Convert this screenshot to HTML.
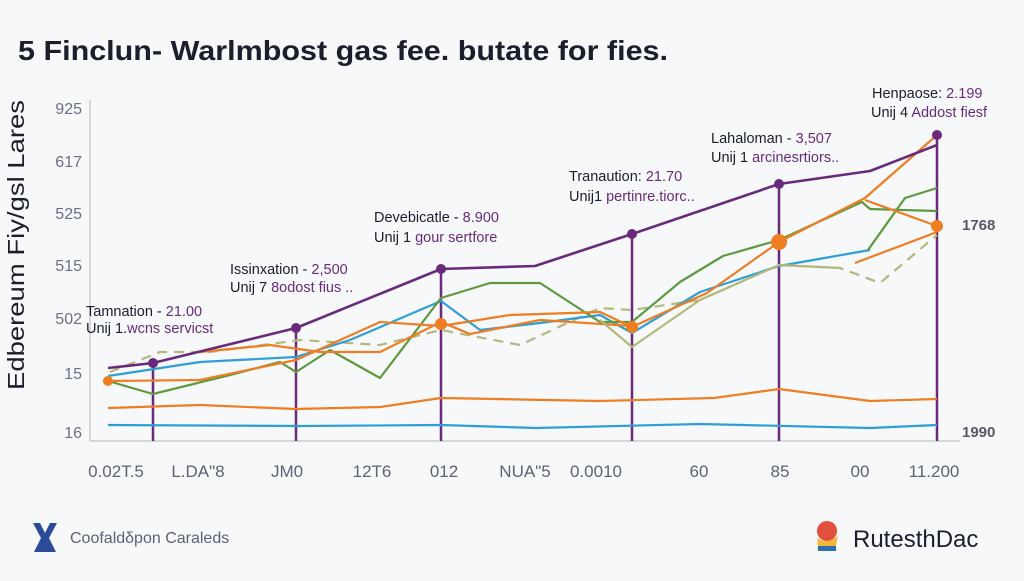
<!DOCTYPE html>
<html><head><meta charset="utf-8"><style>
body{margin:0;width:1024px;height:576px;background:#f6f8fa;overflow:hidden;font-family:"Liberation Sans",sans-serif}
</style></head><body>
<svg width="1024" height="576" viewBox="0 0 1024 576" xmlns="http://www.w3.org/2000/svg" font-family="Liberation Sans, sans-serif">
<rect width="1024" height="576" fill="#f6f8fa"/>
<text x="18" y="60" font-size="28" font-weight="bold" fill="#1b1f2b" textLength="650" lengthAdjust="spacingAndGlyphs">5 Finclun- Warlmbost gas fee. butate for fies.</text>
<g stroke="#c9ccd2" stroke-width="1.5" fill="none">
<line x1="90" y1="100" x2="90" y2="441"/><line x1="90" y1="441" x2="960" y2="441"/>
</g>
<g font-size="16" fill="#6b7180" text-anchor="end">
<text x="82" y="114">925</text><text x="82" y="167">617</text><text x="82" y="219">525</text><text x="82" y="271">515</text><text x="82" y="324">502</text><text x="82" y="379">15</text><text x="82" y="438">16</text>
</g>
<text transform="translate(24,245) rotate(-90)" font-size="23" fill="#1b1f2b" text-anchor="middle" textLength="290" lengthAdjust="spacingAndGlyphs">Edbereum Fiy/gsl Lares</text>
<g font-size="17" fill="#5d6370" text-anchor="middle">
<text x="116" y="477">0.02T.5</text><text x="198" y="477">L.DA"8</text><text x="287" y="477">JM0</text><text x="372" y="477">12T6</text><text x="444" y="477">012</text><text x="525" y="477">NUA"5</text><text x="596" y="477">0.0010</text><text x="699" y="477">60</text><text x="780" y="477">85</text><text x="860" y="477">00</text><text x="934" y="477">11.200</text>
</g>
<g font-size="15" fill="#555a66" font-weight="bold"><text x="962" y="230">1768</text><text x="962" y="437">1990</text></g>
<g stroke="#6a2a7c" stroke-width="2.5">
<line x1="153" y1="363" x2="153" y2="441"/><line x1="296" y1="328" x2="296" y2="441"/><line x1="441" y1="269" x2="441" y2="441"/><line x1="632" y1="234" x2="632" y2="441"/><line x1="779" y1="184" x2="779" y2="441"/><line x1="937" y1="135" x2="937" y2="441"/>
</g>
<g fill="none" stroke-width="2.2" stroke-linejoin="round">
<polyline stroke="#2e9fd6" points="108,425 300,426 441,425 536,428 700,424 870,428 937,425"/>
<polyline stroke="#ef7d22" points="108,408 200,405 296,409 380,407 441,398 600,401 714,398 779,389 870,401 937,399"/>
<polyline stroke="#b4b87a" stroke-dasharray="10,7" points="110,372 160,352 210,352 300,340 380,345 441,330 520,345 600,308 632,310 700,300 779,265 840,268 880,283 937,235"/>
<polyline stroke="#2e9fd6" points="108,376 200,362 296,357 350,340 441,301 480,330 540,323 600,315 632,333 700,292 779,266 870,250"/>
<polyline stroke="#5c9a3c" points="108,381 153,394 230,375 280,362 296,372 330,350 380,378 441,298 490,283 540,283 600,322 632,322 680,282 723,256 779,240 862,202 870,209 937,211"/>
<polyline stroke="#5c9a3c" points="868,250 905,198 937,188"/>
<polyline stroke="#ef7d22" points="108,381 200,380 296,360 380,322 441,326 510,315 600,312 632,327 707,293 779,242 865,198 937,135"/>
<polyline stroke="#ef7d22" points="200,352 270,345 320,352 380,352 441,322 470,334 540,320 632,326"/>
<polyline stroke="#ef7d22" points="855,263 937,232"/>
<polyline stroke="#ef7d22" points="865,200 937,226"/>
<polyline stroke="#b4b87a" points="600,320 632,347 700,300 779,265 840,268"/>
<polyline stroke="#6a2a7c" stroke-width="2.6" points="108,368 153,363 296,328 441,269 535,266 632,234 779,184 870,171 937,145"/>
</g>
<g fill="#6a2a7c"><circle cx="153" cy="363" r="5"/><circle cx="296" cy="328" r="5"/><circle cx="441" cy="269" r="5"/><circle cx="632" cy="234" r="5"/><circle cx="779" cy="184" r="5"/><circle cx="937" cy="135" r="5"/></g>
<g fill="#ef7d22"><circle cx="108" cy="381" r="5"/><circle cx="441" cy="324" r="6"/><circle cx="632" cy="327" r="6"/><circle cx="779" cy="242" r="8"/><circle cx="937" cy="226" r="6"/></g>
<g font-size="14.5" fill="#1b1f2b">
<text x="86" y="316">Tamnation - <tspan fill="#6a2a7c">21.00</tspan></text><text x="86" y="333">Unij 1.<tspan fill="#6a2a7c">wcns servicst</tspan></text>
<text x="230" y="274">Issinxation - <tspan fill="#6a2a7c">2,500</tspan></text><text x="230" y="292">Unij 7 <tspan fill="#6a2a7c">8odost fius ..</tspan></text>
<text x="374" y="222">Devebicatle - <tspan fill="#6a2a7c">8.900</tspan></text><text x="374" y="242">Unij 1 <tspan fill="#6a2a7c">gour sertfore</tspan></text>
<text x="569" y="181">Tranaution: <tspan fill="#6a2a7c">21.70</tspan></text><text x="569" y="201">Unij1 <tspan fill="#6a2a7c">pertinre.tiorc..</tspan></text>
<text x="711" y="143">Lahaloman - <tspan fill="#6a2a7c">3,507</tspan></text><text x="711" y="162">Unij 1 <tspan fill="#6a2a7c">arcinesrtiors..</tspan></text>
<text x="872" y="98">Henpaose: <tspan fill="#6a2a7c">2.199</tspan></text><text x="871" y="117">Unij 4 <tspan fill="#6a2a7c">Addost fiesf</tspan></text>
</g>
<g fill="#2a4a9a"><path d="M33,523 L40,523 L45,533 L50,523 L57,523 L49,538 L56,552 L34,552 L41,538 Z"/></g>
<text x="70" y="543" font-size="16" fill="#5d6370">Coofaldδpon Caraleds</text>
<circle cx="827" cy="531" r="10" fill="#e0503a"/><path d="M817,538 Q827,545 838,536 L836,546 Q827,550 818,546Z" fill="#f2b73a"/><rect x="818" y="546" width="18" height="5" fill="#2e6fae"/>
<text x="853" y="547" font-size="24" fill="#1b1f2b">RutesthDac</text>
</svg>
</body></html>
